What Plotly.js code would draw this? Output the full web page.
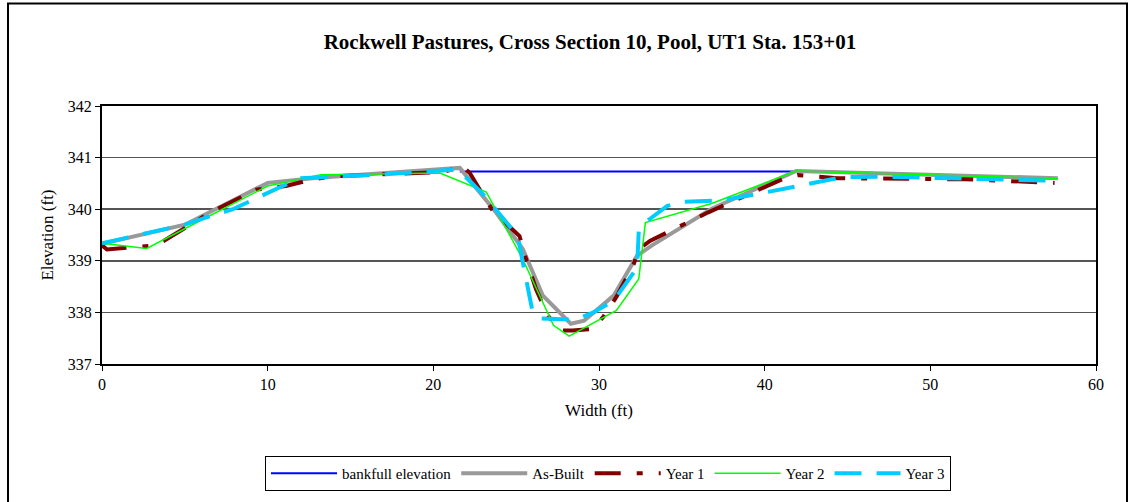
<!DOCTYPE html>
<html>
<head>
<meta charset="utf-8">
<script src="https://cdn.plot.ly/plotly-3.0.1.min.js"></script>
<style>
  html, body { margin: 0; padding: 0; background: #ffffff; }
  #chart { width: 1129px; height: 502px; }
</style>
</head>
<body>
<div id="chart"></div>
<script>
// ---- Data ----
const chartTitle = "Rockwell Pastures, Cross Section 10, Pool, UT1 Sta. 153+01";
const xAxisTitle = "Width (ft)";
const yAxisTitle = "Elevation (ft)";
const seriesNames = ["bankfull elevation", "As-Built", "Year 1", "Year 2", "Year 3"];

const bankfullX = [21.6, 41.9];
const bankfullY = [340.73, 340.73];

const asBuiltX = [0, 5, 10, 13, 21.6, 22.8, 23.8, 25.4, 26.6, 28.3, 29.1, 30.9, 32.3, 33.2, 36.8, 41.9, 57.7];
const asBuiltY = [339.33, 339.70, 340.51, 340.61, 340.80, 340.32, 339.93, 339.23, 338.33, 337.78, 337.84, 338.33, 339.10, 339.30, 340.01, 340.74, 340.60];

const year1X = [0, 0.3, 3.3, 6.5, 9.3, 11.1, 12.6, 14.0, 20.5, 21.8, 22.2, 23.6, 25.2, 25.6, 26.2, 26.9, 27.7, 28.4, 29.6, 30.25, 31.05, 32.1, 32.4, 33.1, 36.6, 38.85, 41.2, 42.0, 44.4, 52.1, 56.0, 57.5];
const year1Y = [339.30, 339.22, 339.30, 339.93, 340.38, 340.45, 340.57, 340.64, 340.72, 340.82, 340.70, 339.96, 339.48, 339.03, 338.45, 337.94, 337.65, 337.65, 337.68, 337.91, 338.30, 338.94, 339.23, 339.39, 339.94, 340.27, 340.60, 340.66, 340.60, 340.58, 340.53, 340.51];

const year2X = [0, 2.7, 6.3, 10.0, 13.2, 20.4, 23.2, 25.4, 27.25, 28.2, 31.05, 32.4, 32.8, 36.8, 41.9, 57.7];
const year2Y = [339.34, 339.24, 339.84, 340.45, 340.67, 340.70, 340.33, 339.03, 337.75, 337.54, 338.04, 338.65, 339.74, 340.11, 340.74, 340.59];

const year3X = [0, 5.0, 6.3, 7.9, 10.9, 12.0, 16.8, 21.5, 23.0, 24.0, 25.1, 25.4, 26.0, 26.5, 28.6, 29.6, 30.9, 32.3, 32.4, 32.9, 34.1, 35.0, 37.4, 39.8, 42.3, 44.7, 47.0, 57.7];
const year3Y = [339.34, 339.70, 339.84, 340.00, 340.45, 340.60, 340.67, 340.77, 340.29, 339.90, 339.48, 338.97, 338.00, 337.88, 337.86, 337.99, 338.23, 338.87, 339.58, 339.77, 340.06, 340.14, 340.17, 340.31, 340.47, 340.62, 340.63, 340.55];

const xTickVals = [0, 10, 20, 30, 40, 50, 60];
const yTickVals = [337, 338, 339, 340, 341, 342];

// ---- Traces ----
const serif = "'Liberation Serif', 'Times New Roman', 'DejaVu Serif', serif";
const traces = [
  { x: bankfullX, y: bankfullY, name: seriesNames[0], mode: "lines",
    line: { color: "#0000FF", width: 2 } },
  { x: asBuiltX, y: asBuiltY, name: seriesNames[1], mode: "lines",
    line: { color: "#999999", width: 4 } },
  { x: year1X, y: year1Y, name: seriesNames[2], mode: "lines",
    line: { color: "#800000", width: 4, dash: "26px,16px,6px,16px" } },
  { x: year2X, y: year2Y, name: seriesNames[3], mode: "lines",
    line: { color: "#00FF00", width: 1.5 } },
  { x: year3X, y: year3Y, name: seriesNames[4], mode: "lines",
    line: { color: "#00CCFF", width: 4, dash: "27px,15px" } }
];

// plot area in pixels: x 102..1096, y 106..365
const L = 102, R = 1096, T = 106, B = 365;
const W = R - L, H = B - T;
function px(x) { return (x - L) / W; }
function py(y) { return (B - y) / H; }

const layout = {
  width: 1129, height: 502,
  margin: { l: L, r: 1129 - R, t: T, b: 502 - B, pad: 0 },
  paper_bgcolor: "#ffffff",
  plot_bgcolor: "#ffffff",
  showlegend: true,
  font: { family: serif, color: "#000000", size: 15 },
  title: {
    text: chartTitle,
    font: { family: serif, size: 21, color: "#000000", weight: "bold" },
    x: px(590), xanchor: "center", xref: "paper",
    y: 1 - 42 / 502, yanchor: "middle", yref: "container"
  },
  xaxis: {
    range: [0, 60], tickvals: xTickVals, ticks: "outside", ticklen: 5, tickwidth: 1,
    tickcolor: "#000000", showgrid: false, zeroline: false,
    showline: true, linecolor: "#000000", linewidth: 2, mirror: true,
    tickfont: { family: serif, size: 16, color: "#000000" },
    title: { text: xAxisTitle, font: { family: serif, size: 17, color: "#000000" }, standoff: 12 },
    fixedrange: true
  },
  yaxis: {
    range: [337, 342], tickvals: yTickVals, ticks: "outside", ticklen: 5, tickwidth: 1,
    tickcolor: "#000000", showgrid: true, gridcolor: "#555555", gridwidth: 1.5, zeroline: false,
    showline: true, linecolor: "#000000", linewidth: 2, mirror: true,
    tickfont: { family: serif, size: 16, color: "#000000" },
    title: { text: yAxisTitle, font: { family: serif, size: 17, color: "#000000" }, standoff: 10 },
    fixedrange: true
  },
  legend: {
    orientation: "h",
    x: px(608), xanchor: "center",
    y: py(456), yanchor: "top",
    bordercolor: "#000000", borderwidth: 1,
    bgcolor: "#ffffff",
    itemwidth: 66,
    font: { family: serif, size: 15, color: "#000000" },
    traceorder: "normal"
  },
  shapes: [
    { type: "rect", xref: "paper", yref: "paper",
      x0: px(8), x1: px(1127), y0: py(520), y1: py(3),
      line: { color: "#000000", width: 2 }, fillcolor: "rgba(0,0,0,0)", layer: "below" }
  ]
};

Plotly.newPlot("chart", traces, layout, { displayModeBar: false, staticPlot: true });
</script>
</body>
</html>
